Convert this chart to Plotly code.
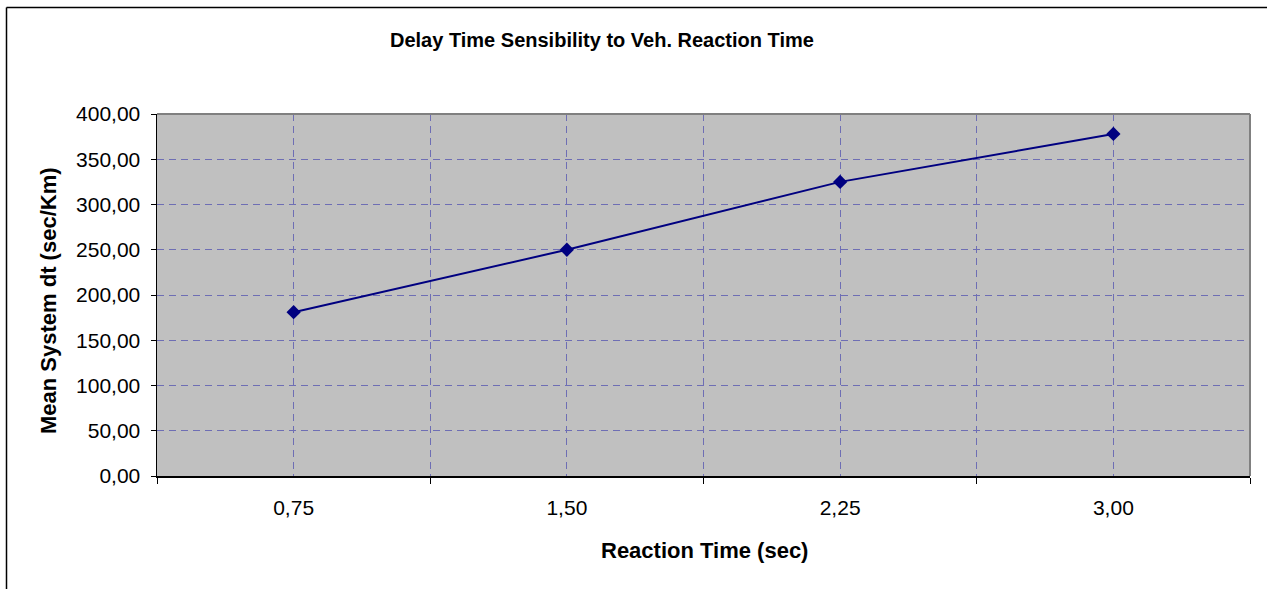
import plotly.graph_objects as go

# Data
categories = ["0,75", "1,50", "2,25", "3,00"]
delay_values = [181, 250, 325, 378]
y_ticks = [0, 50, 100, 150, 200, 250, 300, 350, 400]

W, H = 1267, 589
L, R, T, B = 157, 17, 114, 113
PW, PH = W - L - R, H - T - B

def px(x):
    return (x - L) / PW

def py(y):
    return (H - B - y) / PH

FONT = "Liberation Sans, Arial, sans-serif"
GRID = "#6E6EB4"
DASH = "7px,5px"
positions = list(range(len(categories)))

fig = go.Figure()
fig.add_trace(go.Scatter(
    x=positions, y=delay_values, mode="lines+markers",
    line=dict(color="#000080", width=2),
    marker=dict(symbol="diamond", size=11, color="#000080"),
    showlegend=False, hoverinfo="skip",
))

fig.update_layout(
    width=W, height=H,
    margin=dict(l=L, r=R, t=T, b=B, autoexpand=False),
    paper_bgcolor="white", plot_bgcolor="#C0C0C0",
    separators=",.",
    font=dict(family=FONT, color="black", size=21),
    xaxis=dict(
        range=[-0.5, len(categories) - 0.5],
        tickmode="array", tickvals=positions, ticktext=categories,
        ticks="", showgrid=True, gridcolor=GRID, gridwidth=1, griddash=DASH,
        showline=True, linecolor="black", linewidth=1.5,
        zeroline=False, ticklabelstandoff=12,
        tickfont=dict(size=21),
        minor=dict(tick0=-0.5, dtick=1, ticks="outside", ticklen=6,
                   tickcolor="black", tickwidth=1,
                   showgrid=True, gridcolor=GRID, gridwidth=1, griddash=DASH),
        fixedrange=True,
    ),
    yaxis=dict(
        range=[0, 400], tickmode="array", tickvals=y_ticks, tickformat=".2f",
        ticks="outside", ticklen=5, tickcolor="black", tickwidth=1,
        showgrid=True, gridcolor=GRID, gridwidth=1, griddash=DASH,
        showline=True, linecolor="black", linewidth=1.5,
        zeroline=False, tickfont=dict(size=21), ticklabelstandoff=6,
        fixedrange=True,
    ),
    shapes=[
        # plot area border (top/right gray)
        dict(type="line", xref="paper", yref="paper", x0=0, x1=1, y0=1, y1=1,
             line=dict(color="#808080", width=2)),
        dict(type="line", xref="paper", yref="paper", x0=1, x1=1, y0=0, y1=1,
             line=dict(color="#808080", width=2)),
        # chart outer border (left and top visible)
        dict(type="line", xref="paper", yref="paper", x0=px(6.5), x1=px(6.5),
             y0=py(7.5), y1=py(620), line=dict(color="black", width=1.5)),
        dict(type="line", xref="paper", yref="paper", x0=px(6.5), x1=px(1300),
             y0=py(7.5), y1=py(7.5), line=dict(color="black", width=1.5)),
    ],
    annotations=[
        dict(text="<b>Delay Time Sensibility to Veh. Reaction Time</b>",
             xref="paper", yref="paper", x=px(602), y=py(40),
             xanchor="center", yanchor="middle", showarrow=False,
             font=dict(size=20, family=FONT)),
        dict(text="<b>Reaction Time (sec)</b>",
             xref="paper", yref="paper", x=px(704), y=py(550),
             xanchor="center", yanchor="middle", showarrow=False,
             font=dict(size=22, family=FONT)),
        dict(text="<b>Mean System dt (sec/Km)</b>",
             xref="paper", yref="paper", x=px(48), y=py(301),
             xanchor="center", yanchor="middle", showarrow=False, textangle=-90,
             font=dict(size=22, family=FONT)),
    ],
)

fig.write_html("out.html",
               config={"displayModeBar": False, "staticPlot": True},
               post_script="document.body.style.margin='0';document.body.style.overflow='hidden';")
